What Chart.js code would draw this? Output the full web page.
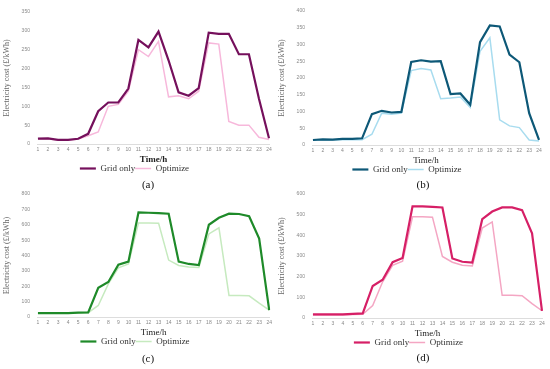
<!DOCTYPE html>
<html>
<head>
<meta charset="utf-8">
<script src="https://cdn.jsdelivr.net/npm/chart.js@4"></script>
<style>
  body { margin: 0; background: #fff; width: 550px; height: 369px; position: relative; overflow: hidden; }
  canvas { position: absolute; }
  .cap { position: absolute; font-family: "Liberation Serif", serif; font-size: 11px; color: #111; width: 40px; text-align: center; }
</style>
</head>
<body>
<canvas id="ca" width="275" height="183" style="left:0;top:0"></canvas>
<canvas id="cb" width="275" height="184" style="left:275px;top:0"></canvas>
<canvas id="cc" width="275" height="173" style="left:0;top:183px"></canvas>
<canvas id="cd" width="275" height="174" style="left:275px;top:183px"></canvas>
<div class="cap" style="left:128px;top:178px">(a)</div>
<div class="cap" style="left:403px;top:178px">(b)</div>
<div class="cap" style="left:128px;top:352px">(c)</div>
<div class="cap" style="left:403px;top:351px">(d)</div>
<script>
// hours
const hours = Array.from({length: 24}, (_, i) => String(i + 1));

// (a)
const gridA = [14, 15, 11, 11, 14, 27, 87, 110, 110, 147, 276, 256, 298, 222, 137, 128, 148, 295, 292, 292, 238, 238, 120, 15];
const optA  = [14, 14, 10, 10, 13, 22, 32, 100, 105, 140, 250, 232, 272, 125, 128, 120, 140, 268, 265, 60, 50, 50, 18, 12];
// (b)
const gridB = [15, 17, 16, 18, 18, 20, 92, 102, 97, 99, 248, 253, 249, 250, 152, 154, 120, 307, 357, 354, 270, 247, 95, 15];
const optB  = [14, 15, 15, 16, 16, 16, 32, 95, 92, 95, 222, 228, 224, 138, 140, 143, 112, 280, 320, 75, 57, 52, 15, 12];
// (c)
const gridC = [25, 25, 25, 25, 28, 30, 190, 228, 340, 360, 680, 678, 676, 672, 360, 345, 338, 600, 645, 672, 670, 655, 510, 45];
const optC  = [25, 25, 25, 25, 27, 28, 75, 215, 320, 345, 612, 612, 610, 370, 335, 325, 322, 540, 580, 140, 140, 138, 90, 45];
// (d)
const gridD = [18, 18, 18, 18, 20, 22, 155, 185, 270, 290, 540, 540, 538, 535, 288, 272, 268, 478, 515, 535, 535, 522, 410, 35];
const optD  = [15, 15, 15, 15, 17, 18, 60, 175, 255, 275, 490, 490, 488, 298, 270, 255, 252, 435, 465, 110, 110, 108, 70, 35];

const yMax = [350, 400, 800, 600];
const ySteps = [50, 50, 100, 100];

function makeChart(id, grid, opt, cGrid, cOpt, max, step, boldX, pad) {
  new Chart(document.getElementById(id), {
    type: 'line',
    data: {
      labels: hours,
      datasets: [
        { label: 'Grid only', data: grid, borderColor: cGrid, backgroundColor: cGrid, borderWidth: 2.2, pointRadius: 0, tension: 0 },
        { label: 'Optimize', data: opt, borderColor: cOpt, backgroundColor: cOpt, borderWidth: 1.5, pointRadius: 0, tension: 0 }
      ]
    },
    options: {
      responsive: false,
      animation: false,
      layout: { padding: pad },
      plugins: {
        legend: {
          position: 'bottom',
          labels: {
            usePointStyle: true, pointStyle: 'line', pointStyleWidth: 16,
            color: '#333', padding: 0, boxHeight: 6,
            font: { family: 'Liberation Serif', size: 9 }
          }
        },
        tooltip: { enabled: false }
      },
      scales: {
        x: {
          offset: false,
          grid: { display: false, drawTicks: false, tickLength: 0 },
          border: { display: true, color: '#ddd', dash: [1, 1] },
          ticks: { color: '#888', font: { family: 'Liberation Sans', size: 5, lineHeight: 1 }, maxRotation: 0, autoSkip: false, padding: 3 },
          title: { display: true, text: 'Time/h', color: '#222', padding: { top: 0, bottom: 0 },
                   font: { family: 'Liberation Serif', size: 9, weight: boldX ? 'bold' : 'normal', lineHeight: 1 } }
        },
        y: {
          min: 0, max: max,
          grid: { display: false, drawTicks: false, tickLength: 0 },
          border: { display: false },
          ticks: { stepSize: step, color: '#888', font: { family: 'Liberation Sans', size: 5 }, padding: 8 },
          title: { display: true, text: 'Electricity cost (£/kWh)', color: '#666', padding: 2,
                   font: { family: 'Liberation Serif', size: 8 } }
        }
      }
    }
  });
}

makeChart('ca', gridA, optA, '#75105C', '#F7B8DB', yMax[0], ySteps[0], true, { left: 0, right: 6, top: 12, bottom: 0 });
makeChart('cb', gridB, optB, '#0D5877', '#A8DCEF', yMax[1], ySteps[1], false, { left: 0, right: 11, top: 9, bottom: 0 });
makeChart('cc', gridC, optC, '#1E8A29', '#C6EABF', yMax[2], ySteps[2], false, { left: 0, right: 5, top: 10, bottom: 0 });
makeChart('cd', gridD, optD, '#D61F66', '#F4A6C3', yMax[3], ySteps[3], false, { left: 0, right: 8, top: 8, bottom: 0 });
</script>
</body>
</html>
